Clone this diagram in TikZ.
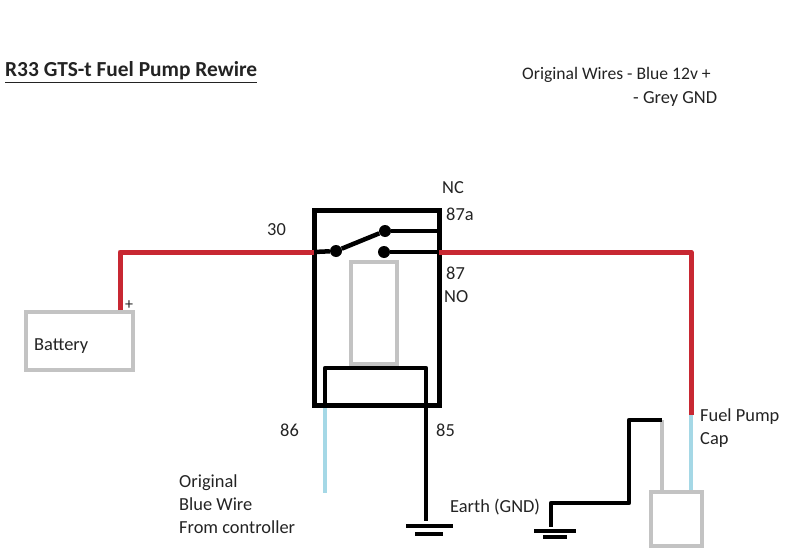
\documentclass[tikz,border=0pt]{standalone}
\usepackage{fontspec}
\setmainfont{Carlito}
\definecolor{wirered}{RGB}{200,40,50}
\definecolor{wireblue}{RGB}{165,216,230}
\definecolor{wiregrey}{RGB}{195,195,195}
\definecolor{labelink}{RGB}{35,35,35}
\tikzset{
    boxnode/.style={draw=wiregrey, line width=4.5pt, inner sep=0pt, fill=none},
    relaynode/.style={draw=black, line width=5pt, inner sep=0pt},
    dotnode/.style={circle, fill=black, inner sep=0pt, minimum size=12pt},
    label/.style={text=labelink, font=\fontsize{18.4}{21}\selectfont, inner sep=0pt, anchor=base west},
    redwire/.style={wirered, line width=5pt},
    bluewire/.style={wireblue, line width=4.5pt},
    greywire/.style={wiregrey, line width=4.5pt},
    blackwire/.style={black, line width=4.5pt}
}
\begin{document}
\begin{tikzpicture}[x=1pt,y=-1pt]
    \useasboundingbox (0,0) rectangle (799,556);
    % boxes
    \node [relaynode, minimum width=125pt, minimum height=195pt] (relay) at (376.5,307.5) {};
    \node [boxnode, minimum width=46pt, minimum height=102pt] (coil) at (374,313) {};
    \node [boxnode, minimum width=107pt, minimum height=58pt] (battery) at (79.5,341) {};
    \node [boxnode, minimum width=51pt, minimum height=54pt] (pump) at (676.5,519) {};
    % switch contacts
    \node [dotnode] (common) at (336,251) {};
    \node [dotnode] (contactnc) at (385,231) {};
    \node [dotnode] (contactno) at (384,252) {};
    \coordinate (relayin) at (314,252);
    \coordinate (relayout) at (439,252);
    \coordinate (ncend) at (441,231);
    \draw [blackwire] (relayin) -- (common);
    \draw [blackwire] (common) -- (contactnc);
    \draw [blackwire] (contactnc) -- (ncend);
    \draw [blackwire] (contactno) -- (relayout);
    % supply wires
    \coordinate (battcorner) at (120,252);
    \coordinate (battplus) at (120,310);
    \coordinate (pumpcorner) at (691,252);
    \coordinate (capjoin) at (691,415);
    \coordinate (captop) at (691,490);
    \draw [redwire, line join=round] (battplus) -- (battcorner) -- (relayin);
    \draw [redwire, line join=round] (relayout) -- (pumpcorner) -- (capjoin);
    \draw [bluewire] (capjoin) -- (captop);
    % coil
    \coordinate (coilleft) at (325,405);
    \coordinate (coilright) at (426,405);
    \coordinate (coiltopl) at (325,368);
    \coordinate (coiltopr) at (426,368);
    \coordinate (blueend) at (325,493);
    \coordinate (gndleft) at (426,521);
    \draw [blackwire, line join=round] (coilleft) -- (coiltopl) -- (coiltopr) -- (gndleft);
    \draw [bluewire] (coilleft) ++(0,3) -- (blueend);
    % earth one
    \coordinate (ea) at (406,526);
    \coordinate (eb) at (453,526);
    \coordinate (ec) at (415,534);
    \coordinate (ed) at (443,534);
    \draw [blackwire] (ea) -- (eb);
    \draw [blackwire] (ec) -- (ed);
    % pump earth
    \coordinate (greytop) at (662,420);
    \coordinate (greyend) at (662,491);
    \coordinate (blacka) at (629,420);
    \coordinate (blackb) at (629,503);
    \coordinate (blackc) at (551,503);
    \coordinate (blackd) at (551,527);
    \draw [greywire] (greytop) -- (greyend);
    \draw [blackwire, line join=round] (greytop) -- (blacka) -- (blackb) -- (blackc) -- (blackd);
    \coordinate (ee) at (534,531);
    \coordinate (ef) at (576,531);
    \coordinate (eg) at (543,537);
    \coordinate (eh) at (567,537);
    \draw [blackwire] (ee) -- (ef);
    \draw [blackwire] (eg) -- (eh);
    % labels
    \node [label, font=\fontsize{21.4}{25}\selectfont\bfseries] (title) at (5,77) {\underline{R33 GTS-t Fuel Pump Rewire}};
    \node [label, font=\fontsize{17.6}{21}\selectfont] (origa) at (522,80) {Original Wires - Blue 12v +};
    \node [label] (origb) at (633,104) {- Grey GND};
    \node [label] (nc) at (442,193) {NC};
    \node [label] (pinnc) at (446,220) {87a};
    \node [label] (pinin) at (267,235) {30};
    \node [label] (pinno) at (446,279) {87};
    \node [label] (no) at (444,302) {NO};
    \node [label] (batt) at (34,350) {Battery};
    \node [label, font=\fontsize{16}{18}\selectfont] (plus) at (125,309) {+};
    \node [label] (pinb) at (280,436) {86};
    \node [label] (pina) at (436,436) {85};
    \node [label] (fuel) at (700,421) {Fuel Pump};
    \node [label] (cap) at (700,444) {Cap};
    \node [label] (earth) at (450,512) {Earth (GND)};
    \node [label] (blueone) at (179,487) {Original};
    \node [label] (bluetwo) at (179,510) {Blue Wire};
    \node [label] (bluethree) at (179,533) {From controller};
\end{tikzpicture}
\end{document}
